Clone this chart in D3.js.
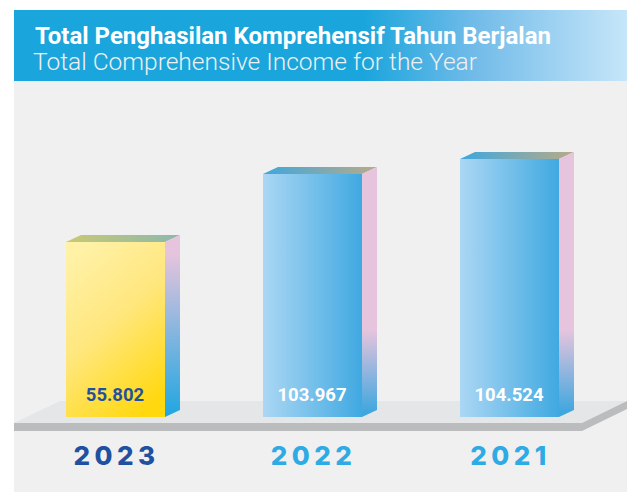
<!DOCTYPE html>
<meta charset="utf-8">
<head>
    <script src="https://d3js.org/d3.v7.min.js"></script>
</head>
<body style="margin:0;background:#fff">
    <div id="svg_div"></div>
</body>
<script>
    var years = ["2023", "2022", "2021"];
    var values = [55.802, 103.967, 104.524];
    var value_labels = ["55.802", "103.967", "104.524"];
    var title_id = "Total Penghasilan Komprehensif Tahun Berjalan";
    var title_en = "Total Comprehensive Income for the Year";

    let width = 632, height = 492;
    let base_y = 417;
    let depth_x = 15, depth_y = 7;

    let svg = d3.select("#svg_div").append("svg")
        .attr("width", width)
        .attr("height", height)
        .style("display", "block");

    let x = d3.scaleBand()
        .domain(years)
        .range([66, 559])
        .paddingInner(0.4975)
        .paddingOuter(0);

    // the bars in the picture are not drawn to a linear scale, so this one has a knee per bar
    let y = d3.scaleLinear()
        .domain(values)
        .range([242, 174, 159]);

    // gradients
    let defs = svg.append("defs");
    function add_gradient(id, x1, y1, x2, y2, stops, user_space) {
        let g = defs.append("linearGradient")
            .attr("id", id)
            .attr("x1", x1).attr("y1", y1)
            .attr("x2", x2).attr("y2", y2);
        if (user_space) g.attr("gradientUnits", "userSpaceOnUse");
        stops.forEach((s) => {
            g.append("stop").attr("offset", s[0]).attr("stop-color", s[1]);
        });
    }
    add_gradient("header_grad", 0, 0, 1, 0, [[0, "#1aa5dc"], [0.57, "#1aa5dc"], [0.75, "#71bbe9"], [1, "#c6e6f9"]]);
    add_gradient("front_yellow", 0.25, 0, 0.75, 1, [[0, "#fff1a6"], [0.45, "#ffe77e"], [1, "#ffd80e"]]);
    add_gradient("front_blue", 0, 0, 1, 0, [[0, "#abd7f4"], [1, "#40a9e1"]]);
    add_gradient("top_yellow", 0, 0, 1, 0, [[0, "#c9c974"], [1, "#8cb8ad"]]);
    add_gradient("top_blue", 0, 0, 1, 0, [[0, "#3ea7de"], [1, "#b8ab88"]]);
    add_gradient("side_yellow", 0, 235, 0, 417, [[0, "#e6c4dd"], [0.1, "#e6c4dd"], [1, "#1fa6e1"]], true);
    add_gradient("side_blue", 0, 330, 0, 412, [[0, "#e6c4dd"], [1, "#3fa7df"]], true);

    // panel and header
    svg.append("rect").attr("x", 14).attr("y", 81).attr("width", 613).attr("height", 411).attr("fill", "#f0f0f1");
    svg.append("rect").attr("x", 14).attr("y", 10).attr("width", 613).attr("height", 71).attr("fill", "url(#header_grad)");

    svg.append("text")
        .attr("x", 35).attr("y", 44)
        .attr("font-family", "Roboto").attr("font-weight", 700).attr("font-size", 24)
        .attr("fill", "#fff")
        .attr("textLength", 516).attr("lengthAdjust", "spacingAndGlyphs")
        .text(title_id);
    svg.append("text")
        .attr("x", 33).attr("y", 70)
        .attr("font-family", "Roboto").attr("font-weight", 300).attr("font-size", 24)
        .attr("fill", "#f0f0f0")
        .attr("textLength", 444).attr("lengthAdjust", "spacingAndGlyphs")
        .text(title_en);

    // platform
    svg.append("path").attr("d", "M14,423L60,401H627L582,423Z").attr("fill", "#e5e6e8");
    svg.append("path").attr("d", "M14,423H582V431H14Z").attr("fill", "#bbbcbe");
    svg.append("path").attr("d", "M582,423L627,401V409L582,431Z").attr("fill", "#bbbcbe");

    // bars
    let bars = svg.selectAll(".bar")
        .data(years)
        .enter().append("g")
        .attr("class", "bar");

    bars.append("rect")
        .attr("x", (d) => x(d))
        .attr("y", (d, i) => y(values[i]))
        .attr("width", x.bandwidth())
        .attr("height", (d, i) => base_y - y(values[i]))
        .attr("fill", (d, i) => i == 0 ? "url(#front_yellow)" : "url(#front_blue)");

    bars.append("path")
        .attr("d", (d, i) => {
            let x0 = x(d), x1 = x0 + x.bandwidth(), t = y(values[i]);
            return "M" + x0 + "," + t + "L" + (x0 + depth_x) + "," + (t - depth_y) +
                "H" + (x1 + depth_x) + "L" + x1 + "," + t + "Z";
        })
        .attr("fill", (d, i) => i == 0 ? "url(#top_yellow)" : "url(#top_blue)");

    bars.append("path")
        .attr("d", (d, i) => {
            let x1 = x(d) + x.bandwidth(), t = y(values[i]);
            return "M" + x1 + "," + t + "L" + (x1 + depth_x) + "," + (t - depth_y) +
                "V" + (base_y - depth_y) + "L" + x1 + "," + base_y + "Z";
        })
        .attr("fill", (d, i) => i == 0 ? "url(#side_yellow)" : "url(#side_blue)");

    bars.append("text")
        .attr("x", (d) => x(d) + x.bandwidth() / 2 - 0.5)
        .attr("y", 401)
        .attr("text-anchor", "middle")
        .attr("font-family", "Roboto").attr("font-weight", 700).attr("font-size", 18.5)
        .attr("fill", (d, i) => i == 0 ? "#1f51a0" : "#fff")
        .text((d, i) => value_labels[i]);

    // year labels
    bars.append("text")
        .attr("x", (d) => x(d) + x.bandwidth() / 2 + 1)
        .attr("y", 465)
        .attr("text-anchor", "middle")
        .attr("font-family", "Inter").attr("font-weight", 800).attr("font-size", 26)
        .attr("letter-spacing", 4.5)
        .attr("fill", (d, i) => i == 0 ? "#1f51a0" : "#2eaae4")
        .text((d) => d);
</script>
